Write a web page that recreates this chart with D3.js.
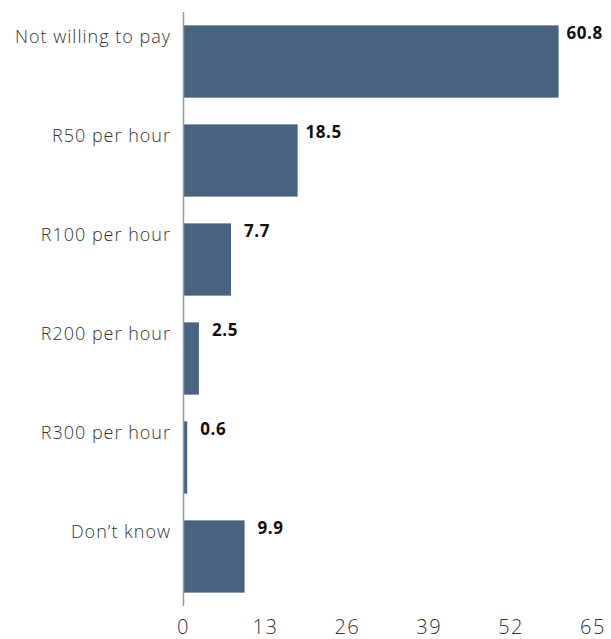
<!DOCTYPE html>
<html>
<head>
<meta charset="utf-8">
<script src="https://cdn.jsdelivr.net/npm/d3@7"></script>
<style>
  html, body { margin: 0; padding: 0; background: #fff; }
  svg { display: block; }
</style>
</head>
<body>
<svg id="chart" width="611" height="639"></svg>
<script>
const categories = ["Not willing to pay", "R50 per hour", "R100 per hour", "R200 per hour", "R300 per hour", "Don\u2019t know"];
const values = [60.8, 18.5, 7.7, 2.5, 0.6, 9.9];
const tickValues = [0, 13, 26, 39, 52, 65];

const svg = d3.select("#chart");
const font = "'Open Sans', 'Noto Sans', sans-serif";

const x = d3.scaleLinear().domain([0, 65]).range([183.5, 584.5]);
const xTicks = d3.scaleLinear().domain([0, 65]).range([183.5, 593]);
const y = d3.scaleBand().domain(categories).range([12, 606]).paddingInner(0.27).paddingOuter(0.135);

const data = categories.map((c, i) => ({ c, v: values[i] }));

svg.selectAll("rect.bar").data(data).enter().append("rect")
  .attr("class", "bar")
  .attr("x", x(0))
  .attr("y", d => y(d.c))
  .attr("width", d => x(d.v) - x(0))
  .attr("height", y.bandwidth())
  .attr("fill", "#476380");

// vertical axis line
svg.append("line")
  .attr("x1", x(0)).attr("x2", x(0))
  .attr("y1", 12).attr("y2", 606)
  .attr("stroke", "#8d9bb0").attr("stroke-width", 1.5);

// category labels
svg.selectAll("text.cat").data(data).enter().append("text")
  .attr("class", "cat")
  .attr("x", 171)
  .attr("y", d => y(d.c) + 17.5)
  .attr("text-anchor", "end")
  .attr("font-family", font)
  .attr("font-weight", 300)
  .attr("font-size", 18)
  .attr("letter-spacing", 1)
  .attr("fill", "#333")
  .text(d => d.c);

// value labels
svg.selectAll("text.val").data(data).enter().append("text")
  .attr("class", "val")
  .attr("x", d => x(d.v) + 26)
  .attr("y", d => y(d.c) + 13.5)
  .attr("text-anchor", "middle")
  .attr("font-family", font)
  .attr("font-weight", 700)
  .attr("font-size", 17)
  .attr("letter-spacing", 0.6)
  .attr("fill", "#111")
  .text(d => d.v.toFixed(1));

// x tick labels
svg.selectAll("text.tick").data(tickValues).enter().append("text")
  .attr("class", "tick")
  .attr("x", d => xTicks(d))
  .attr("y", 634)
  .attr("text-anchor", "middle")
  .attr("font-family", font)
  .attr("font-weight", 300)
  .attr("font-size", 20)
  .attr("letter-spacing", 1.5)
  .attr("fill", "#333")
  .text(d => d);
</script>
</body>
</html>
